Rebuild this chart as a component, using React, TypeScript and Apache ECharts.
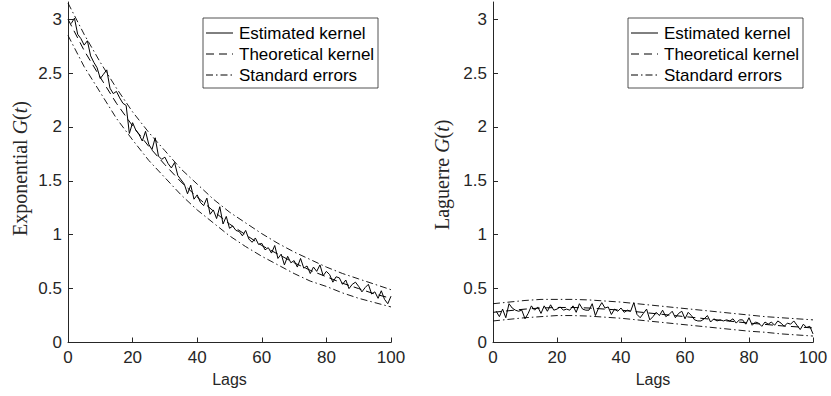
import React, { useEffect, useRef } from "react";
import * as echarts from "echarts";

// Lags for the estimated kernels (1..100)
const LAGS: number[] = Array.from({ length: 100 }, (_, i) => i + 1);
// Lags where the smooth curves were read
const SAMPLE_LAGS = [0, 5, 10, 15, 20, 25, 30, 35, 40, 45, 50, 55, 60, 65, 70, 75, 80, 85, 90, 95, 100];

const X_TICKS = [0, 20, 40, 60, 80, 100];
const Y_TICKS = [0, 0.5, 1, 1.5, 2, 2.5, 3];

// Exponential kernel
const EXP_ESTIMATED = [
  2.96, 3.01, 2.86, 2.82, 2.76, 2.8, 2.66, 2.6, 2.55, 2.45,
  2.49, 2.53, 2.36, 2.31, 2.33, 2.27, 2.22, 2.2, 1.94, 2.04,
  1.97, 1.93, 1.87, 1.96, 1.84, 1.79, 1.9, 1.73, 1.7, 1.72,
  1.66, 1.62, 1.67, 1.55, 1.51, 1.47, 1.38, 1.46, 1.33, 1.37,
  1.3, 1.27, 1.34, 1.19, 1.23, 1.15, 1.26, 1.1, 1.17, 1.06,
  1.08, 1.04, 1.03, 0.99, 1.04, 0.96, 0.93, 0.97, 0.91, 0.92,
  0.86, 0.88, 0.83, 0.9, 0.78, 0.82, 0.72, 0.8, 0.74, 0.76,
  0.7, 0.78, 0.69, 0.71, 0.64, 0.7, 0.66, 0.72, 0.62, 0.66,
  0.63, 0.56, 0.61, 0.6, 0.54, 0.58, 0.5, 0.54, 0.56, 0.52,
  0.47, 0.51, 0.54, 0.45, 0.47, 0.41, 0.48, 0.4, 0.36, 0.43,
];
const EXP_THEORETICAL = [3.0, 2.71, 2.46, 2.22, 2.01, 1.82, 1.65, 1.49, 1.35, 1.22, 1.1, 1.0, 0.9, 0.82, 0.74, 0.67, 0.61, 0.55, 0.5, 0.45, 0.41];
const EXP_UPPER = [3.15, 2.86, 2.6, 2.36, 2.14, 1.95, 1.78, 1.61, 1.47, 1.33, 1.21, 1.11, 1.01, 0.92, 0.84, 0.77, 0.7, 0.64, 0.59, 0.54, 0.49];
const EXP_LOWER = [2.85, 2.56, 2.32, 2.08, 1.88, 1.69, 1.53, 1.37, 1.23, 1.11, 0.99, 0.89, 0.8, 0.72, 0.64, 0.57, 0.52, 0.46, 0.41, 0.37, 0.33];

// Laguerre kernel
const LAG_ESTIMATED = [
  0.29, 0.24, 0.31, 0.23, 0.36, 0.32, 0.3, 0.29, 0.3, 0.22,
  0.27, 0.34, 0.3, 0.33, 0.27, 0.34, 0.29, 0.35, 0.3, 0.31,
  0.33, 0.3, 0.31, 0.3, 0.34, 0.28, 0.36, 0.31, 0.3, 0.3,
  0.36, 0.25, 0.32, 0.37, 0.32, 0.33, 0.26, 0.31, 0.29, 0.32,
  0.28, 0.3, 0.29, 0.37, 0.26, 0.23, 0.27, 0.31, 0.21, 0.24,
  0.28, 0.25, 0.3, 0.24, 0.26, 0.29, 0.23, 0.27, 0.29, 0.22,
  0.28, 0.25, 0.21, 0.2, 0.2, 0.22, 0.25, 0.19, 0.22, 0.2,
  0.21, 0.2, 0.21, 0.2, 0.22, 0.18, 0.21, 0.21, 0.17, 0.23,
  0.16, 0.19, 0.18, 0.15, 0.19, 0.17, 0.19, 0.16, 0.2, 0.18,
  0.15, 0.18, 0.17, 0.2, 0.16, 0.12, 0.17, 0.14, 0.15, 0.08,
];
const LAG_THEORETICAL = [0.28, 0.295, 0.31, 0.32, 0.325, 0.325, 0.32, 0.31, 0.3, 0.285, 0.27, 0.255, 0.24, 0.225, 0.21, 0.195, 0.18, 0.168, 0.155, 0.145, 0.135];
const LAG_UPPER = [0.36, 0.375, 0.39, 0.4, 0.4, 0.4, 0.395, 0.385, 0.375, 0.36, 0.345, 0.33, 0.315, 0.3, 0.285, 0.27, 0.255, 0.24, 0.23, 0.22, 0.21];
const LAG_LOWER = [0.2, 0.215, 0.23, 0.24, 0.25, 0.25, 0.245, 0.235, 0.225, 0.21, 0.195, 0.18, 0.165, 0.15, 0.135, 0.12, 0.105, 0.095, 0.08, 0.07, 0.06];

const LEGEND_LABELS = ["Estimated kernel", "Theoretical kernel", "Standard errors"];

const AXIS_COLOR = "#262626";
const SANS = "'Liberation Sans', Arial, Helvetica, sans-serif";
const SERIF = "'Liberation Serif', 'Times New Roman', serif";
const DASH = [8, 5];
const DASHDOT = [7, 3, 1.5, 3];

const pair = (xs: number[], ys: number[]) => xs.map((x, i) => [x, ys[i]]);

function legendGroup(left: number, top: number) {
  const w = 175;
  const h = 70;
  const rowY = [15, 36, 57];
  const styles: any[] = [null, DASH, DASHDOT];
  const children: any[] = [
    {
      type: "rect",
      shape: { x: 0, y: 0, width: w, height: h },
      style: { fill: "#fff", stroke: AXIS_COLOR, lineWidth: 0.8 },
    },
  ];
  rowY.forEach((y, i) => {
    children.push({
      type: "line",
      shape: { x1: 3, y1: y, x2: 30, y2: y },
      style: { stroke: "#000", lineWidth: 1, lineDash: styles[i] || undefined },
    });
    children.push({
      type: "text",
      x: 36,
      y,
      style: {
        text: LEGEND_LABELS[i],
        font: `17px ${SANS}`,
        fill: "#000",
        textVerticalAlign: "middle",
        textAlign: "left",
      },
    });
  });
  return { type: "group", x: left, y: top, z: 100, children };
}

function yLabel(x: number, y: number, word: string) {
  return {
    type: "text",
    x,
    y,
    rotation: Math.PI / 2,
    z: 100,
    style: {
      text: `${word} {i|G}({i|t})`,
      font: `20px ${SERIF}`,
      fill: AXIS_COLOR,
      textAlign: "left",
      textVerticalAlign: "middle",
      rich: {
        i: { fontStyle: "italic", fontFamily: SERIF, fontSize: 20, fill: AXIS_COLOR },
      },
    },
  };
}

function xAxisFor(gridIndex: number) {
  return {
    type: "value",
    gridIndex,
    min: 0,
    max: 100,
    interval: 20,
    name: "Lags",
    nameLocation: "middle",
    nameGap: 29,
    nameTextStyle: { fontFamily: SANS, fontSize: 16, color: AXIS_COLOR },
    axisLine: { show: true, lineStyle: { color: AXIS_COLOR, width: 1 } },
    axisTick: { show: true, inside: true, length: 5, lineStyle: { color: AXIS_COLOR } },
    axisLabel: {
      margin: 6,
      fontFamily: SANS,
      fontSize: 17,
      color: AXIS_COLOR,
      customValues: X_TICKS,
    },
    splitLine: { show: false },
  };
}

function yAxisFor(gridIndex: number) {
  return {
    type: "value",
    gridIndex,
    min: 0,
    max: 3.16,
    axisLine: { show: true, lineStyle: { color: AXIS_COLOR, width: 1 } },
    axisTick: { show: true, inside: true, length: 5, lineStyle: { color: AXIS_COLOR }, customValues: Y_TICKS },
    axisLabel: {
      margin: 6,
      fontFamily: SANS,
      fontSize: 17,
      color: AXIS_COLOR,
      customValues: Y_TICKS,
    },
    splitLine: { show: false },
  };
}

function lineSeries(idx: number, data: number[][], type: any, width = 1) {
  return {
    type: "line",
    xAxisIndex: idx,
    yAxisIndex: idx,
    data,
    showSymbol: false,
    symbol: "none",
    silent: true,
    lineStyle: { color: "#000", width, type },
  };
}

export default function App() {
  const ref = useRef<HTMLDivElement>(null);
  useEffect(() => {
    if (!ref.current) return;
    const chart = echarts.init(ref.current, undefined, { renderer: "svg" });
    const option: any = {
      animation: false,
      backgroundColor: "#fff",
      grid: [
        { left: 68, top: 2, width: 323, bottom: 53.5 },
        { left: 493, top: 2, width: 320, bottom: 53.5 },
      ],
      xAxis: [xAxisFor(0), xAxisFor(1)],
      yAxis: [yAxisFor(0), yAxisFor(1)],
      series: [
        lineSeries(0, pair(LAGS, EXP_ESTIMATED), "solid", 1),
        lineSeries(0, pair(SAMPLE_LAGS, EXP_THEORETICAL), DASH, 1),
        lineSeries(0, pair(SAMPLE_LAGS, EXP_UPPER), DASHDOT, 0.9),
        lineSeries(0, pair(SAMPLE_LAGS, EXP_LOWER), DASHDOT, 0.9),
        lineSeries(1, pair(LAGS, LAG_ESTIMATED), "solid", 1),
        lineSeries(1, pair(SAMPLE_LAGS, LAG_THEORETICAL), DASH, 1),
        lineSeries(1, pair(SAMPLE_LAGS, LAG_UPPER), DASHDOT, 0.9),
        lineSeries(1, pair(SAMPLE_LAGS, LAG_LOWER), DASHDOT, 0.9),
      ],
      graphic: [
        legendGroup(203, 18),
        legendGroup(628, 18),
        yLabel(20, 236, "Exponential"),
        yLabel(442, 230, "Laguerre"),
      ],
    };
    chart.setOption(option);
    return () => chart.dispose();
  }, []);
  return (
    <div
      ref={ref}
      style={{ position: "absolute", left: 0, top: 0, width: 831, height: 396 }}
    />
  );
}
